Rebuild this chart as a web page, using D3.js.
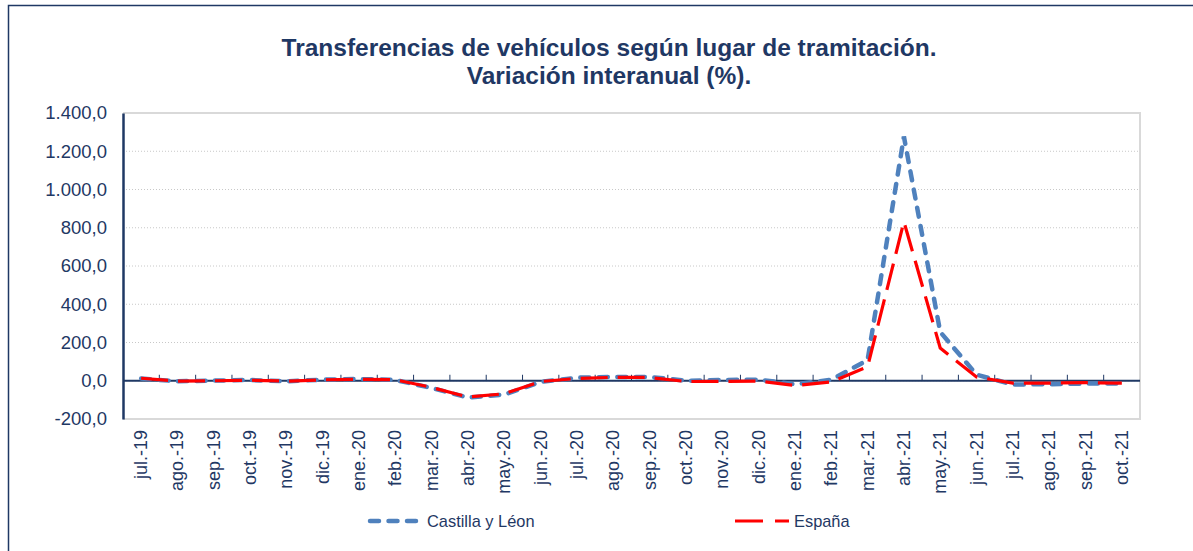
<!DOCTYPE html>
<html>
<head>
<meta charset="utf-8">
<script src="https://cdn.jsdelivr.net/npm/d3@7"></script>
<style>
  body { margin: 0; background: #fff; }
  svg { display: block; }
  svg text { font-family: Arial, "Liberation Sans", Helvetica, sans-serif; }
</style>
</head>
<body>
<div id="chart"></div>
<script>
// categories (months)
const months = [
  "jul.-19", "ago.-19", "sep.-19", "oct.-19", "nov.-19", "dic.-19",
  "ene.-20", "feb.-20", "mar.-20", "abr.-20", "may.-20", "jun.-20",
  "jul.-20", "ago.-20", "sep.-20", "oct.-20", "nov.-20", "dic.-20",
  "ene.-21", "feb.-21", "mar.-21", "abr.-21", "may.-21", "jun.-21",
  "jul.-21", "ago.-21", "sep.-21", "oct.-21"
];

// series values (%)
const castilla = [
  12, -3, 1, 4, -3, 6,
  9, 4, -38, -88, -72, -6,
  16, 20, 20, 0, 4, 6,
  -18, 5, 108, 1277, 255, 32,
  -20, -18, -15, -15
];
const espana = [
  13, -2, 0, 3, -2, 5,
  8, 5, -35, -85, -68, -4,
  12, 18, 17, -4, -3, -2,
  -25, -6, 73, 832, 171, 20,
  -12, -12, -10, -12
];

const yTicks = [-200, 0, 200, 400, 600, 800, 1000, 1200, 1400];

const W = 1193, H = 551;
const margin = { top: 113, right: 53, bottom: 132, left: 123 },
  width = W - margin.left - margin.right,
  height = H - margin.top - margin.bottom;

const navy = "#1F3864";

const root = d3.select("#chart").append("svg")
  .attr("width", W)
  .attr("height", H);

// outer frame
root.append("rect")
  .attr("x", 8.5).attr("y", 5.5)
  .attr("width", W + 20).attr("height", H + 20)
  .attr("fill", "none")
  .attr("stroke", navy)
  .attr("stroke-width", 1.5);

// title
const title = root.append("text")
  .attr("text-anchor", "middle")
  .attr("fill", navy)
  .style("font-size", "24.5px")
  .style("font-weight", "bold");
title.append("tspan").attr("x", 609).attr("y", 56)
  .text("Transferencias de vehículos según lugar de tramitación.");
title.append("tspan").attr("x", 609).attr("y", 84)
  .text("Variación interanual (%).");

const svg = root.append("g")
  .attr("transform", `translate(${margin.left}, ${margin.top})`);

const x = d3.scaleBand().domain(months).range([0, width]);
const y = d3.scaleLinear().domain([-200, 1400]).range([height, 0]);

// gridlines
svg.append("g")
  .selectAll("line")
  .data(yTicks.filter(d => d > -200 && d < 1400))
  .enter()
  .append("line")
  .attr("x1", 0).attr("x2", width)
  .attr("y1", d => y(d)).attr("y2", d => y(d))
  .attr("stroke", "#c8c8c8")
  .attr("stroke-dasharray", "1,2");

// plot area border (top, right, bottom)
svg.append("path")
  .attr("d", `M0,${y(1400)}H${width}V${y(-200)}H0`)
  .attr("fill", "none")
  .attr("stroke", "#d9d9d9")
  .attr("stroke-width", 2);

// y axis, Spanish number format
const fmt = d3.formatLocale({ decimal: ",", thousands: ".", grouping: [3], currency: ["", "€"], minus: "-" }).format(",.1f");
const yAxis = svg.append("g")
  .call(d3.axisLeft(y).tickValues(yTicks).tickSize(0).tickPadding(16).tickFormat(fmt));
yAxis.select(".domain").attr("stroke", navy).attr("stroke-width", 2.5);
yAxis.selectAll("text")
  .attr("fill", navy)
  .style("font-size", "18.5px");

// zero axis with ticks between categories
const xAxis = svg.append("g")
  .attr("transform", `translate(0, ${y(0)})`);
xAxis.append("line")
  .attr("x1", 0).attr("x2", width)
  .attr("stroke", navy).attr("stroke-width", 2);
xAxis.selectAll(".tk")
  .data(months.slice(1))
  .enter()
  .append("line")
  .attr("class", "tk")
  .attr("x1", d => x(d)).attr("x2", d => x(d))
  .attr("y1", 0).attr("y2", -6)
  .attr("stroke", navy).attr("stroke-width", 1);

// x labels at bottom, rotated
svg.append("g")
  .selectAll("text")
  .data(months)
  .enter()
  .append("text")
  .attr("transform", d => `translate(${x(d) + x.bandwidth() / 2 + 6}, ${height + 11}) rotate(-90)`)
  .attr("text-anchor", "end")
  .attr("fill", navy)
  .style("font-size", "18px")
  .text(d => d);

const line = d3.line()
  .x((d, i) => x(months[i]) + x.bandwidth() / 2)
  .y(d => y(d));

svg.append("path")
  .datum(castilla)
  .attr("d", line)
  .attr("fill", "none")
  .attr("stroke", "#4F81BD")
  .attr("stroke-width", 4.5)
  .attr("stroke-linecap", "round")
  .attr("stroke-dasharray", "9,9.5");

svg.append("path")
  .datum(espana)
  .attr("d", line)
  .attr("fill", "none")
  .attr("stroke", "#FF0000")
  .attr("stroke-width", 3.2)
  .attr("stroke-dasharray", "27,10");

// legend
const legend = [
  { name: "Castilla y Léon", color: "#4F81BD", w: 4.5, dash: "9,9.5", cap: "round", x0: 370, x1: 416, tx: 427 },
  { name: "España", color: "#FF0000", w: 3.2, dash: "28,12", cap: "butt", x0: 735, x1: 789, tx: 794 }
];
const lg = root.append("g");
lg.selectAll("line")
  .data(legend)
  .enter()
  .append("line")
  .attr("x1", d => d.x0).attr("x2", d => d.x1)
  .attr("y1", 521).attr("y2", 521)
  .attr("stroke", d => d.color)
  .attr("stroke-width", d => d.w)
  .attr("stroke-linecap", d => d.cap)
  .attr("stroke-dasharray", d => d.dash);
lg.selectAll("text")
  .data(legend)
  .enter()
  .append("text")
  .attr("x", d => d.tx).attr("y", 527)
  .attr("fill", navy)
  .style("font-size", "16.4px")
  .text(d => d.name);
</script>
</body>
</html>
